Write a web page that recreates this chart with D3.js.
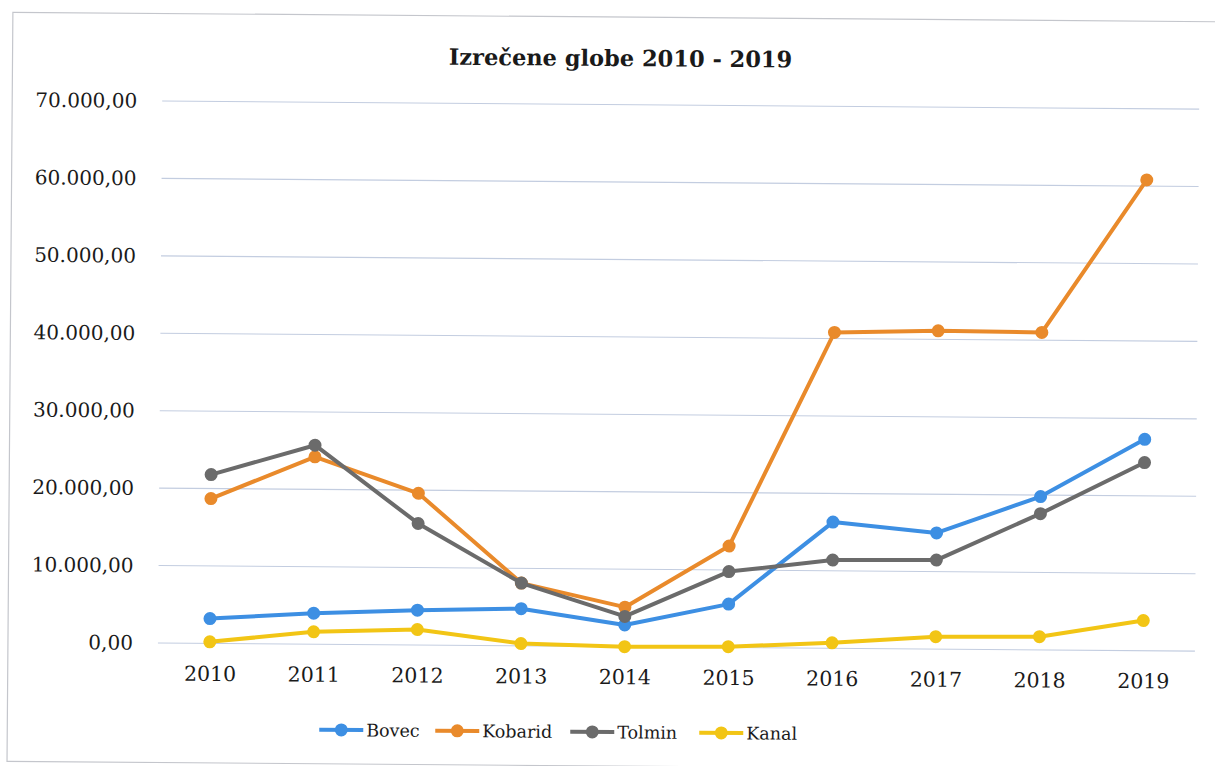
<!DOCTYPE html>
<html><head><meta charset="utf-8">
<script src="https://cdn.jsdelivr.net/npm/d3@7"></script>
<style>
html,body{margin:0;padding:0;background:#fff;}
svg{display:block;}
</style></head>
<body><svg id="chart" width="1215" height="766"></svg>
<script>
const title = "Izrečene globe 2010 - 2019";
const years = ["2010","2011","2012","2013","2014","2015","2016","2017","2018","2019"];
const seriesNames = ["Bovec","Kobarid","Tolmin","Kanal"];
const bovec   = [3200, 4000, 4500, 4800, 2800, 5600, 16300, 15000, 19800, 27300];
const kobarid = [18700, 24200, 19600, 8100, 5100, 13100, 40800, 41100, 41000, 60800];
const tolmin  = [21800, 25700, 15700, 8100, 3900, 9800, 11400, 11500, 17600, 24300];
const kanal   = [200, 1600, 2000, 300, 0, 100, 700, 1600, 1700, 3900];
const yTicks = [0,10000,20000,30000,40000,50000,60000,70000];
const colors = ["#3d8fe3","#e98a2b","#6b6b6b","#f2c515"];

const seriesValues = [bovec, kobarid, tolmin, kanal];
const series = seriesNames.map((n,i)=>({name:n, values:seriesValues[i], color:colors[i]}));

const svg = d3.select("#chart");
svg.append("rect").attr("width",1215).attr("height",766).attr("fill","#fff");
const root = svg.append("g").attr("transform","rotate(0.45,607,383)");

const font = "'DejaVu Serif', serif";
root.append("rect").attr("x",10).attr("y",17).attr("width",1300).attr("height",749)
  .attr("fill","none").attr("stroke","#c4c6cc").attr("stroke-width",1.2);

const left=160, right=1197, y0=646.5, yTop=104.5;
const x = d3.scalePoint().domain(years).range([left,right]).padding(0.5);
const y = d3.scaleLinear().domain([0,70000]).range([y0,yTop]);

const loc = d3.formatLocale({decimal:",", thousands:".", grouping:[3], currency:["","€"]});
const fmt = loc.format(",.2f");

// gridlines
root.append("g").selectAll("line").data(yTicks).join("line")
  .attr("x1",left).attr("x2",right).attr("y1",d=>y(d)).attr("y2",d=>y(d))
  .attr("stroke","#c3cde0").attr("stroke-width",1.1);

const ya = root.append("g").attr("transform",`translate(${left},0)`)
  .call(d3.axisLeft(y).tickValues(yTicks).tickFormat(fmt).tickSize(0).tickPadding(25));
ya.select(".domain").remove();
ya.selectAll("text").attr("font-family",font).attr("font-size",20).attr("fill","#1a1a1a");

const xa = root.append("g").attr("transform",`translate(0,${y0})`)
  .call(d3.axisBottom(x).tickSize(0).tickPadding(23));
xa.select(".domain").remove();
xa.selectAll("text").attr("font-family",font).attr("font-size",20.5).attr("fill","#1a1a1a");

const line = d3.line().x((d,i)=>x(years[i])).y(d=>y(d));
const sg = root.append("g").selectAll("g").data(series).join("g");
sg.append("path").attr("d",d=>line(d.values)).attr("fill","none")
  .attr("stroke",d=>d.color).attr("stroke-width",4).attr("stroke-linejoin","round");
sg.each(function(s){
  d3.select(this).selectAll("circle").data(s.values).join("circle")
    .attr("cx",(d,i)=>x(years[i])).attr("cy",d=>y(d)).attr("r",6.5).attr("fill",s.color);
});

root.append("text").attr("x",618).attr("y",66).attr("text-anchor","middle")
  .attr("font-family",font).attr("font-weight","bold").attr("font-size",22.5)
  .attr("fill","#1a1a1a").text(title);

// legend
const legX = [322, 438, 573, 702];
const lg = root.append("g").selectAll("g").data(series).join("g")
  .attr("transform",(d,i)=>`translate(${legX[i]},732)`);
lg.append("line").attr("x1",0).attr("x2",44).attr("stroke",d=>d.color).attr("stroke-width",4);
lg.append("circle").attr("cx",22).attr("r",6.5).attr("fill",d=>d.color);
lg.append("text").attr("x",47).attr("dy","0.36em").attr("font-family",font).attr("font-size",17.5)
  .attr("fill","#1a1a1a").text(d=>d.name);
</script></body></html>
